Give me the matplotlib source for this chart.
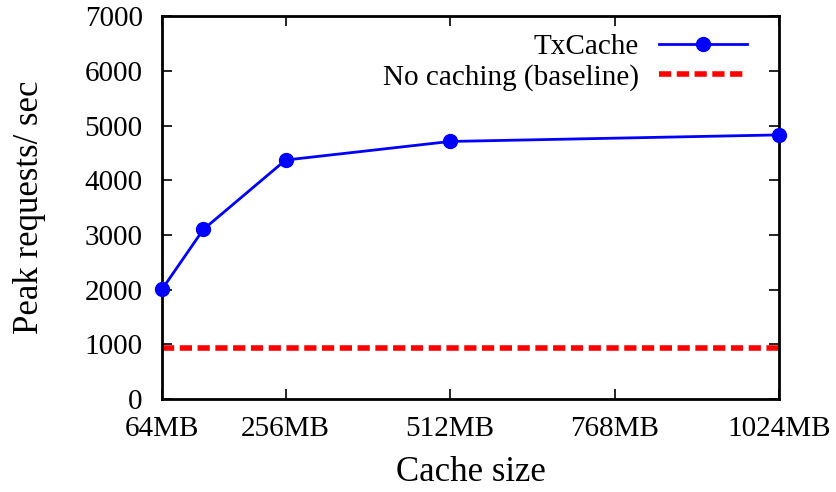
import matplotlib.pyplot as plt

plt.rcParams['font.family'] = ['Liberation Serif', 'DejaVu Serif']

# cache sizes (MB) and peak throughput
cache_mb = [64, 128, 256, 512, 1024]
txcache_rps = [2010, 3100, 4370, 4710, 4830]
baseline_rps = 930
xtick_vals = [64, 256, 512, 768, 1024]
xtick_labels = ['64MB', '256MB', '512MB', '768MB', '1024MB']

fig = plt.figure(figsize=(8.36, 4.92), dpi=100)
ax = fig.add_axes([0.194, 0.189, 0.738, 0.778])

ax.plot(cache_mb, txcache_rps, color='#0000ff', lw=2, marker='o',
        markersize=10, label='TxCache', clip_on=False, zorder=3)
ax.plot([64, 1024], [baseline_rps, baseline_rps], color='#ff0000', lw=4,
        dashes=(2.2, 1), label='No caching (baseline)')

ax.set_xlim(64, 1024)
ax.set_ylim(0, 7000)
ax.set_xticks(xtick_vals)
ax.set_xticklabels(xtick_labels)
ax.set_yticks(range(0, 7001, 1000))
ax.tick_params(direction='in', top=True, right=True, length=7, width=1.2,
               labelsize=21)
ax.tick_params(axis='y', pad=14)
ax.tick_params(axis='x', pad=12)
for s in ax.spines.values():
    s.set_linewidth(2)

ax.set_xlabel('Cache size', fontsize=25, labelpad=10)
ax.set_ylabel('Peak requests/ sec', fontsize=25, labelpad=28)

leg = ax.legend(loc='upper right', frameon=False, markerfirst=False,
                fontsize=21, handlelength=3.0, borderaxespad=0.4,
                labelspacing=0.12, handletextpad=0.7,
                bbox_to_anchor=(0.985, 1.015))
for t in leg.get_texts():
    t.set_ha('right')

plt.savefig('out.png', dpi=100)
